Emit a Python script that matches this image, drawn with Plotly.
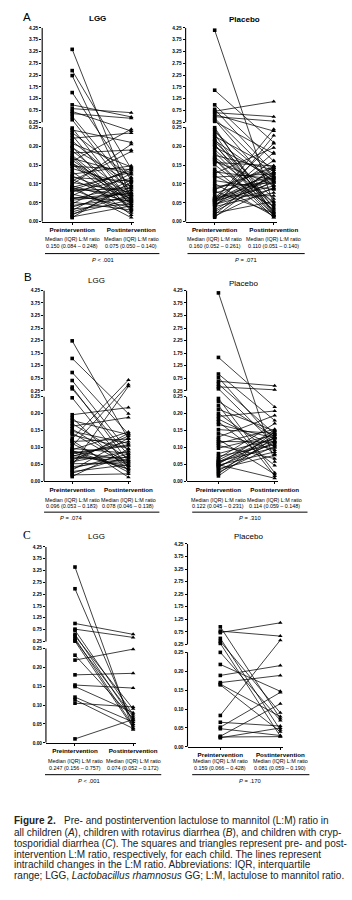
import plotly.graph_objects as go

W, H = 352, 900

# ---------------- data (L:M ratio, pre / post per child) ----------------
A_LGG_pre = [3.34, 2.44, 2.23, 1.51, 0.99, 0.83, 0.71, 0.62, 0.50, 0.36,
             0.248, 0.243, 0.236, 0.229, 0.221, 0.214, 0.207, 0.199, 0.196, 0.188,
             0.182, 0.176, 0.168, 0.163, 0.160, 0.155, 0.152, 0.147, 0.141, 0.133,
             0.126, 0.121, 0.117, 0.112, 0.104, 0.099, 0.095, 0.091, 0.088, 0.086,
             0.083, 0.079, 0.073, 0.069, 0.064, 0.060, 0.057, 0.052, 0.047, 0.043,
             0.039, 0.034, 0.030, 0.026, 0.021, 0.018, 0.013, 0.011, 0.092, 0.084,
             0.062, 0.154, 0.108, 0.171]
A_LGG_post = [0.062, 0.140, 0.055, 0.110, 0.48, 0.66, 0.240, 0.42, 0.090, 0.070,
              0.052, 0.210, 0.118, 0.041, 0.235, 0.083, 0.145, 0.028, 0.102, 0.066,
              0.190, 0.047, 0.125, 0.058, 0.245, 0.072, 0.033, 0.138, 0.095, 0.018,
              0.148, 0.061, 0.108, 0.044, 0.078, 0.205, 0.052, 0.131, 0.069, 0.024,
              0.088, 0.115, 0.038, 0.142, 0.056, 0.097, 0.075, 0.031, 0.128, 0.064,
              0.084, 0.047, 0.112, 0.071, 0.059, 0.093, 0.042, 0.105, 0.011, 0.136,
              0.076, 0.053, 0.186, 0.035]

A_PLA_pre = [4.15, 1.61, 0.99, 0.80, 0.72, 0.66, 0.58, 0.49, 0.42, 0.35, 0.29,
             0.249, 0.244, 0.238, 0.231, 0.226, 0.219, 0.212, 0.205, 0.198, 0.191,
             0.184, 0.176, 0.171, 0.165, 0.160, 0.157, 0.151, 0.132, 0.128, 0.122,
             0.118, 0.109, 0.101, 0.094, 0.087, 0.081, 0.076, 0.068, 0.063, 0.060,
             0.058, 0.056, 0.054, 0.052, 0.050, 0.047, 0.044, 0.040, 0.036, 0.031,
             0.027, 0.023, 0.019, 0.015, 0.012, 0.061, 0.057, 0.167, 0.203, 0.085,
             0.139, 0.046, 0.215]
A_PLA_post = [0.045, 0.210, 0.160, 0.130, 1.13, 0.49, 0.240, 0.30, 0.120, 0.090, 0.180,
              0.021, 0.035, 0.105, 0.018, 0.142, 0.026, 0.061, 0.015, 0.118, 0.048,
              0.028, 0.137, 0.052, 0.011, 0.097, 0.148, 0.032, 0.113, 0.196, 0.041,
              0.127, 0.085, 0.015, 0.103, 0.146, 0.023, 0.121, 0.069, 0.207, 0.118,
              0.132, 0.095, 0.245, 0.112, 0.183, 0.104, 0.139, 0.077, 0.228, 0.125,
              0.109, 0.054, 0.147, 0.091, 0.131, 0.162, 0.116, 0.018, 0.038, 0.143,
              0.012, 0.087, 0.108]

B_LGG_pre = [2.24, 1.54, 0.98, 0.66, 0.40, 0.33, 0.247, 0.197, 0.188, 0.180, 0.171,
             0.163, 0.155, 0.148, 0.143, 0.137, 0.126, 0.118, 0.112, 0.104, 0.097,
             0.093, 0.089, 0.086, 0.082, 0.078, 0.074, 0.068, 0.063, 0.058, 0.052,
             0.047, 0.043, 0.038, 0.033, 0.029, 0.024, 0.019, 0.014, 0.091, 0.084,
             0.072, 0.121, 0.056]
B_LGG_post = [0.125, 0.200, 0.140, 0.089, 0.058, 0.077, 0.041, 0.218, 0.032, 0.138, 0.068,
              0.189, 0.052, 0.112, 0.046, 0.097, 0.68, 0.125, 0.027, 0.50, 0.083,
              0.146, 0.062, 0.036, 0.105, 0.045, 0.118, 0.071, 0.134, 0.088, 0.055,
              0.43, 0.064, 0.081, 0.128, 0.049, 0.074, 0.022, 0.095, 0.037, 0.108,
              0.059, 0.012, 0.142]

B_PLA_pre = [4.15, 1.58, 0.92, 0.78, 0.63, 0.52, 0.41, 0.33, 0.245, 0.236, 0.224,
             0.213, 0.201, 0.192, 0.184, 0.176, 0.168, 0.153, 0.142, 0.131, 0.124,
             0.118, 0.112, 0.106, 0.098, 0.082, 0.074, 0.068, 0.063, 0.059, 0.055,
             0.051, 0.048, 0.045, 0.041, 0.037, 0.032, 0.027, 0.022, 0.016, 0.058,
             0.049]
B_PLA_post = [0.058, 0.220, 0.180, 0.120, 0.45, 0.140, 0.29, 0.110, 0.025, 0.132, 0.016,
              0.149, 0.081, 0.208, 0.103, 0.047, 0.128, 0.142, 0.093, 0.195, 0.021,
              0.116, 0.154, 0.067, 0.137, 0.126, 0.108, 0.171, 0.144, 0.099, 0.121,
              0.152, 0.087, 0.113, 0.136, 0.077, 0.118, 0.104, 0.147, 0.131, 0.129,
              0.009]

C_LGG_pre = [3.40, 2.48, 1.01, 0.77, 0.72, 0.55, 0.48, 0.38, 0.30, 0.26,
             0.232, 0.219, 0.180, 0.153, 0.149, 0.121, 0.114, 0.105, 0.0105]
C_LGG_post = [0.035, 0.050, 0.55, 0.42, 0.075, 0.060, 0.090, 0.045, 0.070, 0.040,
              0.065, 0.248, 0.184, 0.145, 0.080, 0.055, 0.038, 0.095, 0.062]

C_PLA_pre = [0.95, 0.78, 0.72, 0.49, 0.37, 0.29, 0.218, 0.189, 0.170, 0.166,
             0.164, 0.083, 0.065, 0.052, 0.048, 0.028, 0.026, 0.024, 0.250]
C_PLA_post = [0.075, 0.58, 1.11, 0.045, 0.090, 0.028, 0.147, 0.215, 0.189, 0.080,
              0.040, 0.42, 0.055, 0.144, 0.030, 0.114, 0.027, 0.050, 0.070]

categories = ["Preintervention", "Postintervention"]
lower_ticks = [0.00, 0.05, 0.10, 0.15, 0.20, 0.25]
upper_ticks = [0.25, 0.75, 1.25, 1.75, 2.25, 2.75, 3.25, 3.75, 4.25]
median_label = "Median (IQR) L:M ratio"
medians = {
    "A_LGG": ("0.150 (0.084 \u2013 0.248)", "0.075 (0.050 \u2013 0.140)", "<i>P</i> < .001"),
    "A_PLA": ("0.160 (0.052 \u2013 0.261)", "0.110 (0.051 \u2013 0.140)", "<i>P</i> = .071"),
    "B_LGG": ("0.096 (0.053 \u2013 0.183)", "0.078 (0.046 \u2013 0.138)", "<i>P</i> = .074"),
    "B_PLA": ("0.122 (0.045 \u2013 0.231)", "0.114 (0.059 \u2013 0.148)", "<i>P</i> = .310"),
    "C_LGG": ("0.247 (0.156 \u2013 0.757)", "0.074 (0.052 \u2013 0.172)", "<i>P</i> < .001"),
    "C_PLA": ("0.159 (0.066 \u2013 0.428)", "0.081 (0.059 \u2013 0.190)", "<i>P</i> = .170"),
}

# ---------------- layout geometry (pixels) ----------------
panels = [
    dict(key="A_LGG", pre=A_LGG_pre, post=A_LGG_post, title="<b>LGG</b>", tx=104, ty=17,
         x0=45, xp=77, xq=140, x1=143, top=26, up=121, lo=126, bot=221,
         m1=238, m2=245, rule=(48, 170, 253), pxy=(110, 259)),
    dict(key="A_PLA", pre=A_PLA_pre, post=A_PLA_post, title="<b>Placebo</b>", tx=261, ty=18,
         x0=198, xp=229, xq=292, x1=295, top=26, up=121, lo=126, bot=221,
         m1=238, m2=245, rule=(200, 325, 253), pxy=(262, 259)),
    dict(key="B_LGG", pre=B_LGG_pre, post=B_LGG_post, title="LGG", tx=103, ty=280,
         x0=47, xp=77, xq=137, x1=140, top=290, up=391, lo=397, bot=482,
         m1=501, m2=507, rule=(47, 170, 513), pxy=(76, 519)),
    dict(key="B_PLA", pre=B_PLA_pre, post=B_PLA_post, title="Placebo", tx=260, ty=283,
         x0=199, xp=233, xq=293, x1=296, top=290, up=391, lo=397, bot=482,
         m1=501, m2=507, rule=(205, 328, 513), pxy=(267, 519)),
    dict(key="C_LGG", pre=C_LGG_pre, post=C_LGG_post, title="LGG", tx=103, ty=537,
         x0=49, xp=80, xq=142, x1=145, top=548, up=643, lo=650, bot=745,
         m1=763, m2=770, rule=(48, 172, 777), pxy=(95, 783)),
    dict(key="C_PLA", pre=C_PLA_pre, post=C_PLA_post, title="Placebo", tx=265, ty=537,
         x0=200, xp=235, xq=299, x1=302, top=545, up=646, lo=654, bot=749,
         m1=763, m2=770, rule=(205, 330, 777), pxy=(267, 783)),
]

FONT = "Liberation Sans Narrow, Arial Narrow, Liberation Sans, Arial, sans-serif"
px = lambda p: p / W
py = lambda p: 1 - p / H

fig = go.Figure()
layout = dict(width=W, height=H, margin=dict(l=0, r=0, t=0, b=0),
              paper_bgcolor="white", plot_bgcolor="white", showlegend=False,
              font=dict(family=FONT, color="black"))
shapes, annotations = [], []

for i, P in enumerate(panels, start=1):
    xa = "x" if i == 1 else f"x{i}"
    ya = "y" if i == 1 else f"y{i}"
    L = P["bot"] - P["lo"]
    g = (P["lo"] - P["up"]) / L
    u = (P["up"] - P["top"]) / L

    def tf(v, g=g, u=u):
        return v / 0.25 if v <= 0.25 else 1 + g + (v - 0.25) / 4.0 * u

    lx, ly = [], []
    for a, b in zip(P["pre"], P["post"]):
        lx += [0, 1, None]
        ly += [tf(a), tf(b), None]
    fig.add_trace(go.Scatter(x=lx, y=ly, mode="lines", line=dict(color="black", width=0.75),
                             xaxis=xa, yaxis=ya, hoverinfo="skip"))
    fig.add_trace(go.Scatter(x=[0] * len(P["pre"]), y=[tf(v) for v in P["pre"]], mode="markers",
                             marker=dict(symbol="square", size=3.6, color="black"),
                             cliponaxis=False, xaxis=xa, yaxis=ya))
    fig.add_trace(go.Scatter(x=[1] * len(P["post"]), y=[tf(v) for v in P["post"]], mode="markers",
                             marker=dict(symbol="triangle-up", size=4, color="black"),
                             cliponaxis=False, xaxis=xa, yaxis=ya))

    unit = P["xq"] - P["xp"]
    layout["xaxis" if i == 1 else f"xaxis{i}"] = dict(
        domain=[px(P["x0"]), px(P["x1"])], anchor=ya,
        range=[-(P["xp"] - P["x0"]) / unit, 1 + (P["x1"] - P["xq"]) / unit],
        tickvals=[0, 1], ticktext=[f"<b>{c}</b>" for c in categories],
        ticks="outside", ticklen=2, tickwidth=1, tickcolor="black",
        showline=True, linecolor="black", linewidth=1,
        showgrid=False, zeroline=False, fixedrange=True,
        tickfont=dict(size=6.2, family=FONT))
    tv = [tf(v) for v in lower_ticks] + [1 + g + (v - 0.25) / 4.0 * u for v in upper_ticks]
    tt = [f"<b>{v:.2f}</b>" for v in lower_ticks] + [f"<b>{v:.2f}</b>" for v in upper_ticks]
    layout["yaxis" if i == 1 else f"yaxis{i}"] = dict(
        domain=[py(P["bot"]), py(P["top"])], anchor=xa, range=[0, 1 + g + u],
        tickvals=tv, ticktext=tt, ticks="outside", ticklen=2, tickwidth=1, tickcolor="black",
        showline=False, showgrid=False, zeroline=False, fixedrange=True,
        tickfont=dict(size=4.8, family=FONT))
    # broken y-axis line: two segments
    for y0, y1 in [(0, 1), (1 + g, 1 + g + u)]:
        shapes.append(dict(type="line", xref=f"{xa} domain", yref=ya, x0=0, x1=0, y0=y0, y1=y1,
                           line=dict(color="black", width=1.1)))

    # titles
    annotations.append(dict(text=P["title"], x=px(P["tx"]), y=py(P["ty"]), xref="paper", yref="paper",
                            showarrow=False, xanchor="center", yanchor="middle",
                            font=dict(size=8, family="Liberation Sans, Arial, sans-serif")))
    # median texts
    mp, mq, ptxt = medians[P["key"]]
    for cx, val in [(P["xp"], mp), (P["xq"], mq)]:
        for yy, txt in [(P["m1"], median_label), (P["m2"], val)]:
            annotations.append(dict(text=txt, x=px(cx), y=py(yy), xref="paper", yref="paper",
                                    showarrow=False, xanchor="center", yanchor="middle",
                                    font=dict(size=5.4, family=FONT)))
    rx0, rx1, ry = P["rule"]
    shapes.append(dict(type="line", xref="paper", yref="paper", x0=px(rx0), x1=px(rx1),
                       y0=py(ry), y1=py(ry), line=dict(color="black", width=1)))
    annotations.append(dict(text=ptxt, x=px(P["pxy"][0]), y=py(P["pxy"][1]), xref="paper", yref="paper",
                            showarrow=False, xanchor="center", yanchor="middle",
                            font=dict(size=5.8, family=FONT)))

# panel letters
for letter, lx_, ly_, fam in [("A", 29, 15, "Liberation Sans, Arial, sans-serif"),
                              ("B", 30, 277, "Liberation Sans, Arial, sans-serif"),
                              ("C", 29, 536, "Liberation Serif, Times New Roman, serif")]:
    annotations.append(dict(text=letter, x=px(lx_), y=py(ly_), xref="paper", yref="paper",
                            showarrow=False, xanchor="center", yanchor="middle",
                            font=dict(size=11.5, family=fam)))

# caption
caption = [
    "<b>Figure 2.</b>   Pre- and postintervention lactulose to mannitol (L:M) ratio in",
    "all children (<i>A</i>), children with rotavirus diarrhea (<i>B</i>), and children with cryp-",
    "tosporidial diarrhea (<i>C</i>). The squares and triangles represent pre- and post-",
    "intervention L:M ratio, respectively, for each child. The lines represent",
    "intrachild changes in the L:M ratio. Abbreviations: IQR, interquartile",
    "range; LGG, <i>Lactobacillus rhamnosus</i> GG; L:M, lactulose to mannitol ratio.",
]
cap_y = [823, 835, 846, 857, 867, 878, 888]
for txt, yy in zip(caption, cap_y):
    annotations.append(dict(text=txt, x=px(13), y=py(yy), xref="paper", yref="paper",
                            showarrow=False, xanchor="left", yanchor="middle",
                            font=dict(size=10, family=FONT, color="#222")))

layout["shapes"] = shapes
layout["annotations"] = annotations
fig.update_layout(**layout)
fig.write_html("out.html")
